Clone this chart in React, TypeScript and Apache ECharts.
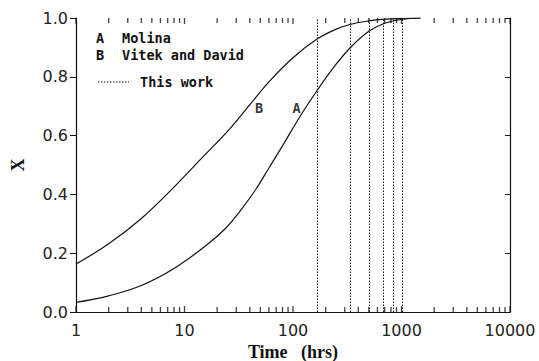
import React, { useEffect, useRef } from "react";
import * as echarts from "echarts";

// Curve A (Molina)
const timeA = [1, 2, 4, 8, 16, 24, 32, 45, 60, 80, 116, 168, 235, 335, 500, 700, 1000, 1500];
const xA = [0.033, 0.055, 0.09, 0.148, 0.228, 0.285, 0.34, 0.415, 0.49, 0.565, 0.665, 0.755, 0.83, 0.898, 0.955, 0.982, 0.995, 1.0];
// Curve B (Vitek and David)
const timeB = [1, 2, 4, 8, 15, 25, 40, 60, 100, 168, 250, 335, 500, 700, 1000, 1500];
const xB = [0.163, 0.232, 0.318, 0.425, 0.53, 0.615, 0.705, 0.783, 0.865, 0.929, 0.962, 0.978, 0.99, 0.996, 0.999, 1.0];
// This work (dotted vertical lines)
const thisWork = [168, 336, 504, 672, 840, 1008];
// Curve labels
const labelA: [number, number] = [108, 0.693];
const labelB: [number, number] = [48.6, 0.694];
// Axis ticks
const xMajor = [1, 10, 100, 1000, 10000];
const xMinor = [2, 3, 4, 5, 6, 7, 8, 9, 20, 30, 40, 50, 60, 70, 80, 90, 200, 300, 400, 500, 600, 700, 800, 900, 2000, 3000, 4000, 5000, 6000, 7000, 8000, 9000];

export default function App() {
  const ref = useRef<HTMLDivElement>(null);
  useEffect(() => {
    if (!ref.current) return;
    const chart = echarts.init(ref.current, null, { renderer: "svg" });
    const ink = "#111";
    const tickFont = { fontFamily: "DejaVu Sans", fontSize: 16, color: "#222" };
    const monoFont = "DejaVu Sans Mono";
    const legendFont = `bold 13.5px "${monoFont}"`;
    const tickSeries = (vals: number[], y: number, len: number, down: boolean) => ({
      type: "scatter",
      silent: true,
      clip: false,
      z: 10,
      symbol: "rect",
      symbolSize: [1.3, len],
      symbolOffset: [0, down ? len / 2 : -len / 2],
      itemStyle: { color: ink },
      data: vals.map((v) => [v, y]),
    });
    chart.setOption({
      animation: false,
      backgroundColor: "#fff",
      grid: { left: 76, right: 29, top: 18, bottom: 49, outerBoundsMode: "none", containLabel: false },
      xAxis: [
        {
          type: "log",
          logBase: 10,
          min: 1,
          max: 10000,
          name: "Time   (hrs)",
          nameLocation: "middle",
          nameGap: 27,
          nameTextStyle: { fontFamily: "Liberation Serif", fontWeight: "bold", fontSize: 18, color: ink },
          axisLine: { show: true, lineStyle: { color: ink, width: 1.2 } },
          axisTick: { show: false },
          axisLabel: {
            ...tickFont,
            margin: 10,
            formatter: (v: number) => {
              const r = Math.round(v);
              return xMajor.includes(r) ? String(r) : "";
            },
          },
          splitLine: { show: false },
        },
        {
          type: "log",
          logBase: 10,
          min: 1,
          max: 10000,
          position: "top",
          axisLine: { show: true, lineStyle: { color: ink, width: 1.2 } },
          axisTick: { show: false },
          axisLabel: { show: false },
          splitLine: { show: false },
        },
      ],
      yAxis: [
        {
          type: "value",
          min: 0,
          max: 1,
          interval: 0.2,
          name: "X",
          nameLocation: "middle",
          nameRotate: 90,
          nameGap: 49,
          nameTextStyle: { fontFamily: "Liberation Serif", fontWeight: "bold", fontSize: 18, color: ink },
          axisLine: { show: true, lineStyle: { color: ink, width: 1.2 } },
          axisTick: { show: true, inside: false, length: 6, lineStyle: { color: ink } },
          axisLabel: { ...tickFont, margin: 8, padding: [7, 0, 0, 0], formatter: (v: number) => v.toFixed(1) },
          splitLine: { show: false },
        },
        {
          type: "value",
          min: 0,
          max: 1,
          interval: 0.2,
          position: "right",
          axisLine: { show: true, lineStyle: { color: ink, width: 1.2 } },
          axisTick: { show: true, inside: true, length: 5, lineStyle: { color: ink } },
          axisLabel: { show: false },
          splitLine: { show: false },
        },
      ],
      series: [
        {
          name: "Molina",
          type: "line",
          data: timeA.map((t, i) => [t, xA[i]]),
          showSymbol: false,
          smooth: 0.4,
          lineStyle: { color: ink, width: 1.2 },
          markLine: {
            silent: true,
            symbol: ["none", "none"],
            label: { show: false },
            lineStyle: { color: ink, width: 1, type: [1.5, 1.5] },
            data: thisWork.map((v) => ({ xAxis: v })),
          },
        },
        {
          name: "Vitek and David",
          type: "line",
          data: timeB.map((t, i) => [t, xB[i]]),
          showSymbol: false,
          smooth: 0.4,
          lineStyle: { color: ink, width: 1.2 },
        },
        {
          type: "scatter",
          data: [
            { name: "A", value: labelA },
            { name: "B", value: labelB },
          ],
          symbolSize: 10,
          itemStyle: { color: "rgba(0,0,0,0)" },
          label: {
            show: true,
            position: "inside",
            formatter: (p: any) => p.name,
            fontFamily: monoFont,
            fontWeight: "bold",
            fontSize: 13.5,
            color: "#000",
            textBorderWidth: 0,
          },
          silent: true,
        },
        tickSeries(xMajor, 0, 6, false),
        tickSeries(xMinor, 0, 5, false),
        tickSeries(xMajor, 1, 6, true),
        tickSeries(xMinor, 1, 5, true),
      ],
      graphic: [
        { type: "text", left: 96, top: 31, style: { text: "A", font: legendFont, fill: ink } },
        { type: "text", left: 122, top: 31, style: { text: "Molina", font: legendFont, fill: ink } },
        { type: "text", left: 96, top: 48, style: { text: "B", font: legendFont, fill: ink } },
        { type: "text", left: 122, top: 48, style: { text: "Vitek and David", font: legendFont, fill: ink } },
        {
          type: "line",
          shape: { x1: 98, y1: 82, x2: 129, y2: 82 },
          style: { stroke: ink, lineWidth: 1, lineDash: [1.5, 1.5] },
        },
        { type: "text", left: 140, top: 75, style: { text: "This work", font: legendFont, fill: ink } },
      ],
    });
    return () => chart.dispose();
  }, []);
  return <div ref={ref} style={{ position: "fixed", left: 0, top: 0, width: 539, height: 361 }} />;
}
